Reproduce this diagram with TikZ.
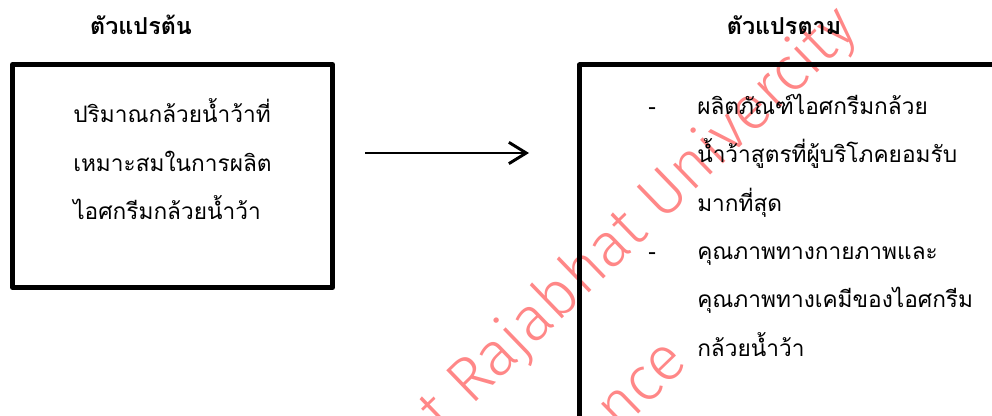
\documentclass[tikz,border=0pt]{standalone}
\usepackage{fontspec}
\newfontfamily\thaifont[Script=Thai]{Loma}
\newfontfamily\wmfont{Fira Sans Light}
\usetikzlibrary{arrows.meta}
\definecolor{wmred}{RGB}{255,135,135}
\tikzset{
  framebox/.style={line width=3.75pt, line join=round},
  title/.style={font=\thaifont\bfseries\fontsize{17.5}{19}\selectfont, anchor=base, inner sep=0pt},
  body/.style={font=\thaifont\fontsize{17}{19}\selectfont, anchor=base west, inner sep=0pt},
  wm/.style={font=\wmfont\fontsize{47}{50}\selectfont, text=wmred, rotate=44, anchor=base west, inner sep=0pt},
  flow/.style={line width=2.2pt, -{Straight Barb[length=13pt, width=16pt, line width=2.2pt]}}
}
\begin{document}
\begin{tikzpicture}[x=0.75pt, y=-0.75pt]
\useasboundingbox (0,0) rectangle (992,416);
\clip (0,0) rectangle (992,416);
% watermark (underneath)
\node[wm] (w1) at (443.5,433.5) {t Rajabhat Univercity};
\node[wm] (w2) at (619,433) {nce};
% titles
\node[title] (t1) at (141,35) {ตัวแปรต้น};
\node[title] (t2) at (784,35) {ตัวแปรตาม};
% boxes
\draw[framebox] (12.5,64.5) rectangle (332.5,287.5);
\draw[framebox] (579.5,65) rectangle (1010,418.5);
% left text
\node[body] (l1) at (73,123) {ปริมาณกล้วยน้ำว้าที่};
\node[body] (l2) at (73,172) {เหมาะสมในการผลิต};
\node[body] (l3) at (73,220) {ไอศกรีมกล้วยน้ำว้า};
% arrow
\coordinate (a1) at (365,153);
\coordinate (a2) at (529,153);
\draw[flow] (a1) -- (a2);
% right text
\node[body] (d1) at (648,115) {-};
\node[body] (r1) at (697,115) {ผลิตภัณฑ์ไอศกรีมกล้วย};
\node[body] (r2) at (697,163) {น้ำว้าสูตรที่ผู้บริโภคยอมรับ};
\node[body] (r3) at (697,212) {มากที่สุด};
\node[body] (d2) at (648,260) {-};
\node[body] (r4) at (697,260) {คุณภาพทางกายภาพและ};
\node[body] (r5) at (697,308) {คุณภาพทางเคมีของไอศกรีม};
\node[body] (r6) at (697,357) {กล้วยน้ำว้า};
\end{tikzpicture}
\end{document}
